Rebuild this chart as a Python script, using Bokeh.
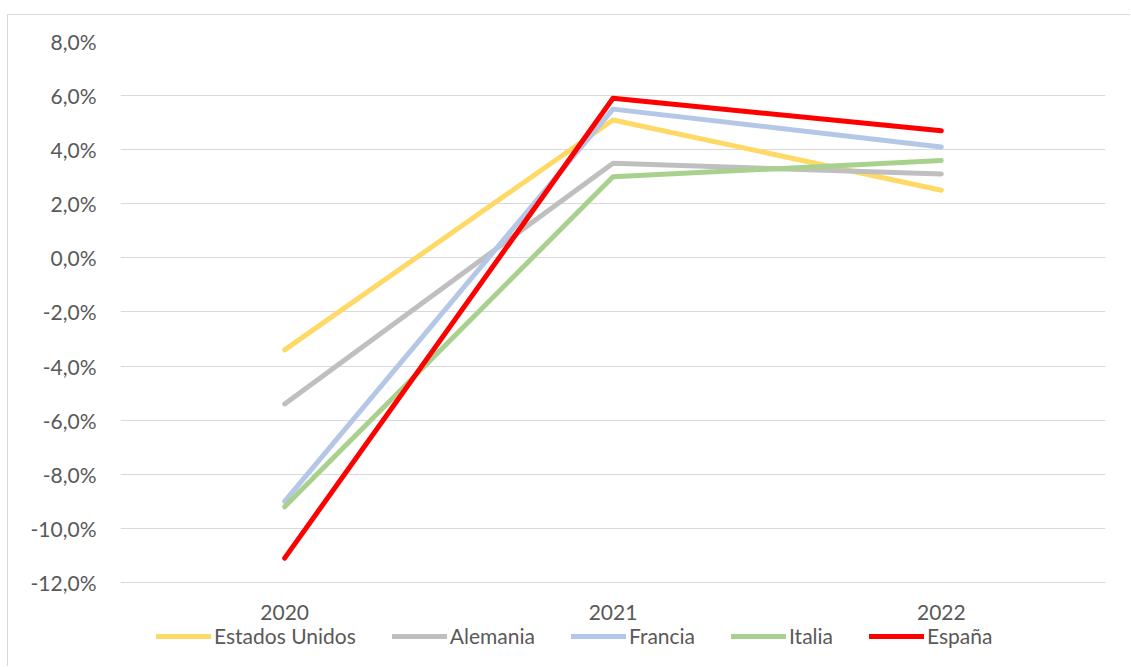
from bokeh.plotting import figure
from bokeh.models import FactorRange, Range1d, FixedTicker, Legend, LegendItem, ColumnDataSource
from bokeh.core.properties import value
from bokeh.embed import file_html
from bokeh.resources import INLINE

years = ["2020", "2021", "2022"]
estados_unidos = [-3.4, 5.1, 2.5]
alemania = [-5.4, 3.5, 3.1]
francia = [-9.0, 5.5, 4.1]
italia = [-9.2, 3.0, 3.6]
espana = [-11.1, 5.9, 4.7]
series_names = ["Estados Unidos", "Alemania", "Francia", "Italia", "España"]
y_ticks = [-12, -10, -8, -6, -4, -2, 0, 2, 4, 6, 8]
y_tick_labels = ["-12,0%", "-10,0%", "-8,0%", "-6,0%", "-4,0%", "-2,0%", "0,0%",
                 "2,0%", "4,0%", "6,0%", "8,0%"]

colors = ["#FFD966", "#BFBFBF", "#B4C7E7", "#A9D18E", "#FF0000"]
FONT = "Lato"
TXT = "#595959"
FS = "21px"

# frame spans 8% (top) down to below -12% so the category labels and legend fit inside
Y_MIN_VIEW = -14.884
p = figure(width=1123, height=652, x_range=FactorRange(*years, range_padding=0),
           y_range=Range1d(Y_MIN_VIEW, 8), output_backend="svg", toolbar_location=None,
           min_border_left=112, min_border_right=26, min_border_top=26, min_border_bottom=7,
           margin=(14, 0, 0, 7))
p.styles = {"border-top": "1px solid #d9d9d9", "border-left": "1px solid #d9d9d9"}
p.outline_line_color = None

items = []
for name, vals, c in zip(series_names, [estados_unidos, alemania, francia, italia, espana], colors):
    r = p.line(years, vals, line_color=c, line_width=5, line_cap="round", line_join="round")
    items.append(LegendItem(label=name, renderers=[r]))

# category labels drawn through the categorical x scale
lab_src = ColumnDataSource(dict(x=years, y=[-13.11] * len(years), t=years))
p.text(x="x", y="y", text="t", source=lab_src, text_font=value(FONT), text_font_size=FS,
       text_color=TXT, text_align="center", text_baseline="middle")

p.yaxis.ticker = FixedTicker(ticks=y_ticks)
p.yaxis.major_label_overrides = {t: l for t, l in zip(y_ticks, y_tick_labels)}
p.yaxis.axis_line_color = None
p.yaxis.major_tick_line_color = None
p.yaxis.major_tick_out = 0
p.yaxis.major_tick_in = 0
p.yaxis.minor_tick_line_color = None
p.yaxis.major_label_standoff = 24
p.yaxis.major_label_text_font = FONT
p.yaxis.major_label_text_font_size = FS
p.yaxis.major_label_text_color = TXT

p.xaxis.visible = False

p.xgrid.grid_line_color = None
p.ygrid.grid_line_color = "#D9D9D9"
p.ygrid.grid_line_width = 1

legend = Legend(items=items, orientation="horizontal", location=(36, 12),
                glyph_width=55, glyph_height=20, label_standoff=3, spacing=36,
                padding=0, margin=0, border_line_color=None, background_fill_alpha=0,
                label_text_font=FONT, label_text_font_size=FS, label_text_color=TXT,
                label_height=20)
p.add_layout(legend, "center")

open("out.html", "w").write(file_html(p, INLINE))
